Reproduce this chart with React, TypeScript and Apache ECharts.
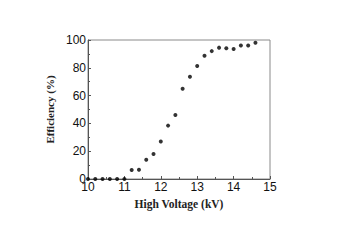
import React, { useEffect, useRef } from "react";
import * as echarts from "echarts";

const voltage = [10.0, 10.2, 10.4, 10.6, 10.8, 11.0, 11.2, 11.4, 11.6, 11.8, 12.0, 12.2, 12.4, 12.6, 12.8, 13.0, 13.2, 13.4, 13.6, 13.8, 14.0, 14.2, 14.4, 14.6];
const efficiency = [0, 0, 0, 0, 0, 0, 6.5, 6.7, 13.9, 18, 27, 38.4, 46, 65, 73.6, 81.3, 88.7, 92, 94.5, 94, 93.5, 96, 96, 98];

export default function App() {
  const ref = useRef<HTMLDivElement>(null);
  useEffect(() => {
    if (!ref.current) return;
    const chart = echarts.init(ref.current, null, { renderer: "svg" });
    chart.setOption({
      animation: false,
      backgroundColor: "#ffffff",
      grid: { left: 88, top: 40, width: 182, height: 139, show: true, borderColor: "#8a8a8a", borderWidth: 1, backgroundColor: "transparent" },
      xAxis: {
        type: "value", min: 10, max: 15, interval: 1,
        name: "High Voltage (kV)", nameLocation: "middle", nameGap: 19,
        nameTextStyle: { fontFamily: "Liberation Serif", fontWeight: "bold", fontSize: 11.5, color: "#222" },
        axisLine: { lineStyle: { color: "#555", width: 1 } },
        axisTick: { inside: true, length: 3, lineStyle: { color: "#555" } },
        minorTick: { show: true, splitNumber: 2, length: 2, lineStyle: { color: "#555" } },
        axisLabel: { fontFamily: "Liberation Sans", fontSize: 12, color: "#111", margin: 2 },
        splitLine: { show: false },
      },
      yAxis: {
        type: "value", min: 0, max: 100, interval: 20,
        name: "Efficiency (%)", nameLocation: "middle", nameGap: 23,
        nameTextStyle: { fontFamily: "Liberation Serif", fontWeight: "bold", fontSize: 11, color: "#222" },
        axisLine: { show: true, lineStyle: { color: "#555", width: 1 } },
        axisTick: { show: true, inside: true, length: 3, lineStyle: { color: "#555" } },
        minorTick: { show: true, splitNumber: 2, length: 2, lineStyle: { color: "#555" } },
        axisLabel: { fontFamily: "Liberation Sans", fontSize: 12, color: "#111", margin: 2 },
        splitLine: { show: false },
      },
      series: [{
        type: "scatter",
        data: voltage.map((v, i) => [v, efficiency[i]]),
        symbol: "circle", symbolSize: 4,
        itemStyle: { color: "#000" },
      }],
    });
    return () => chart.dispose();
  }, []);
  return <div ref={ref} style={{ width: 353, height: 244, position: "absolute", left: 0, top: 0 }} />;
}
